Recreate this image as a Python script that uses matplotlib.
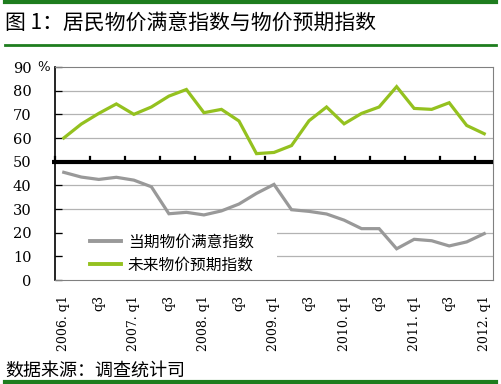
import matplotlib.pyplot as plt
from matplotlib.lines import Line2D
from matplotlib.patches import Rectangle

plt.rcParams['font.family'] = ['Noto Sans CJK SC', 'DejaVu Sans']

# 数据 (2006.q1 - 2012.q1)
quarters = ['2006.q1', '2006.q2', '2006.q3', '2006.q4',
            '2007.q1', '2007.q2', '2007.q3', '2007.q4',
            '2008.q1', '2008.q2', '2008.q3', '2008.q4',
            '2009.q1', '2009.q2', '2009.q3', '2009.q4',
            '2010.q1', '2010.q2', '2010.q3', '2010.q4',
            '2011.q1', '2011.q2', '2011.q3', '2011.q4',
            '2012.q1']
current_idx = [45.5, 43.5, 42.5, 43.4, 42.2, 39.4, 28.0, 28.6, 27.5, 29.2,
               32.1, 36.6, 40.4, 29.7, 29.0, 27.9, 25.3, 21.7, 21.7, 13.2,
               17.2, 16.6, 14.4, 16.1, 19.6]
future_idx = [60.0, 65.9, 70.4, 74.4, 70.0, 73.1, 77.7, 80.5, 70.7, 72.1,
              67.2, 53.4, 53.9, 56.8, 67.3, 73.1, 66.0, 70.4, 73.1, 81.7,
              72.5, 72.1, 74.9, 65.3, 61.8]
tick_labels = ['2006. q1', 'q3', '2007. q1', 'q3', '2008. q1', 'q3', '2009. q1',
               'q3', '2010. q1', 'q3', '2011. q1', 'q3', '2012. q1']
y_ticks = [0, 10, 20, 30, 40, 50, 60, 70, 80, 90]

gray = '#999999'
green = '#94c11f'
dark_green = '#1e7d1e'

fig = plt.figure(figsize=(5.01, 3.84), dpi=100)
ax = fig.add_axes([0.1098, 0.2708, 0.8742, 0.5547])

x = list(range(len(quarters)))

# 网格线
for v in [10, 20, 30, 40, 60, 70, 80]:
    ax.axhline(v, color='#b3b3b3', lw=0.9, zorder=1)

ax.plot(x, current_idx, color=gray, lw=2.3, zorder=3, solid_joinstyle='miter')
ax.plot(x, future_idx, color=green, lw=2.3, zorder=3, solid_joinstyle='miter')

# 50 处的粗黑线和刻度
ax.plot([-0.65, len(quarters) - 0.5], [50, 50], color='black', lw=3,
        zorder=4, clip_on=False, solid_capstyle='butt')
for b in range(0, len(quarters), 2):
    ax.plot([b - 0.5, b - 0.5], [50, 51.8], color='black', lw=1.6,
            zorder=4, clip_on=False)

ax.set_xlim(-0.5, len(quarters) - 0.5)
ax.set_ylim(0, 90)
ax.set_yticks(y_ticks)
ax.set_yticklabels([str(v) for v in y_ticks], fontsize=10.5, family='DejaVu Serif')
ax.tick_params(axis='y', direction='in', length=5, width=0.9, pad=17, colors='black')
ax.set_xticks(x[::2])
ax.set_xticklabels(tick_labels, rotation=90, fontsize=9, family='DejaVu Serif')
ax.tick_params(axis='x', length=0, pad=11)

for s in ['top', 'right', 'bottom']:
    ax.spines[s].set_color('#808080')
ax.spines['left'].set_color('black')
ax.spines['left'].set_linewidth(1.2)

fig.text(0.086, 0.8255, '%', fontsize=9.5, ha='center', va='center',
         family='DejaVu Serif')

# 图例底色(遮住网格线)
ax.add_patch(Rectangle((0.018, 0.02), 0.489, 0.24, transform=ax.transAxes,
                       facecolor='white', edgecolor='none', zorder=2))
handles = [Line2D([], [], color=gray, lw=2.8), Line2D([], [], color=green, lw=2.8)]
leg = ax.legend(handles, ['当期物价满意指数', '未来物价预期指数'],
                loc='center left', bbox_to_anchor=(0.08, 0.124), frameon=False,
                fontsize=11.3, handlelength=2.0, handletextpad=0.4,
                borderpad=0, labelspacing=0.4, borderaxespad=0)
leg.set_zorder(5)

# 标题与来源
fig.add_artist(Line2D([0.01, 0.99], [0.995, 0.995], color=dark_green, lw=3))
fig.add_artist(Line2D([0.01, 0.99], [0.882, 0.882], color=dark_green, lw=2))
fig.text(0.01, 0.937, '图 1：居民物价满意指数与物价预期指数', fontsize=15,
         ha='left', va='center')
fig.text(0.01, 0.036, '数据来源：调查统计司', fontsize=13, ha='left', va='center')
fig.add_artist(Line2D([0.01, 0.99], [0.006, 0.006], color=dark_green, lw=3))

fig.savefig('out.png', dpi=100)
